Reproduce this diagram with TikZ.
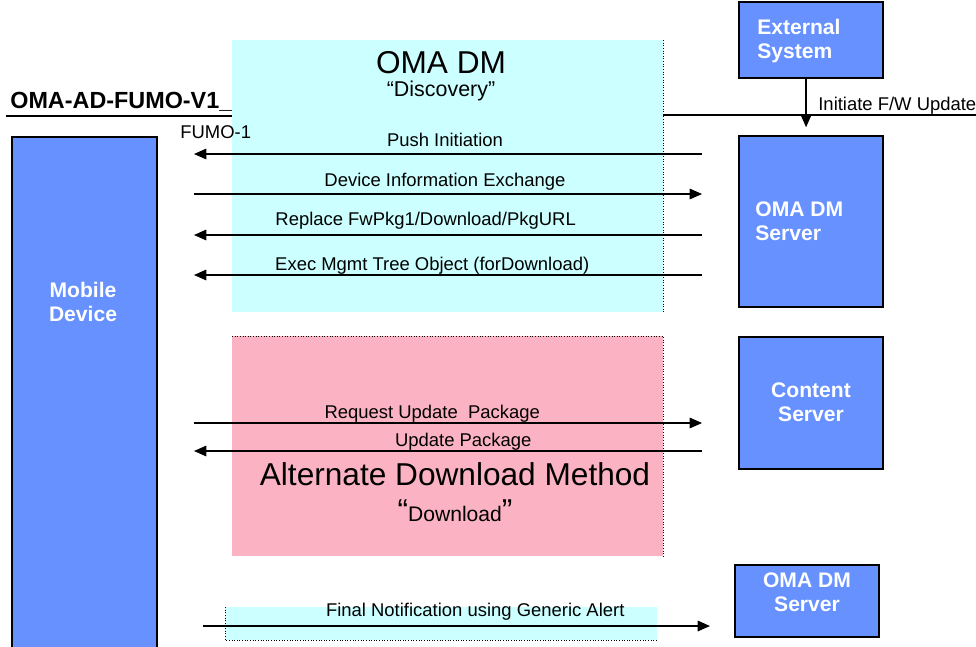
\documentclass[tikz,border=0pt]{standalone}
\usepackage{fontspec}
\setmainfont{Liberation Sans}
\usetikzlibrary{arrows.meta}

\definecolor{devblue}{HTML}{6691FF}
\definecolor{phasecyan}{HTML}{CCFFFF}
\definecolor{phasepink}{HTML}{FBB3C3}

\tikzset{
  srv/.style={draw=black, line width=1pt, fill=devblue, inner sep=0pt},
  srvtext/.style={text=white, font=\fontsize{12}{13.6}\selectfont\bfseries, align=center, inner sep=0pt},
  msg/.style={line width=0.75pt, -{Triangle[length=7pt,width=6pt]}},
  lbl/.style={anchor=base, inner sep=0pt, font=\fontsize{10.5}{12}\selectfont},
  phaseedge/.style={densely dotted, line width=0.5pt},
}

\begin{document}
\begin{tikzpicture}[x=0.02cm, y=-0.02cm]
  \useasboundingbox (0,0) rectangle (976,646);

  % document title and its rule
  \node[anchor=base west, inner sep=0pt, font=\fontsize{13.3}{16}\selectfont\bfseries] (title) at (10,108) {OMA-AD-FUMO-V1\_};
  \draw[line width=1.7pt] (6,116) -- (232,116);
  \draw[line width=1.1pt] (663,115) -- (976,115);

  % phase backgrounds
  \fill[phasecyan] (232,40) rectangle (663,312);
  \draw[phaseedge] (663,40) -- (663,312);
  \node[font=\fontsize{18}{20}\selectfont] (dmtitle) at (441,63) {OMA DM};
  \node[font=\fontsize{12.2}{14}\selectfont] (dmsub) at (441,91) {“Discovery”};

  \fill[phasepink] (232,336) rectangle (663,556);
  \draw[phaseedge] (232,336) -- (663,336) -- (663,556);
  \node[font=\fontsize{18}{20}\selectfont] (alttitle) at (455,474) {Alternate Download Method};
  \node[font=\fontsize{12}{14}\selectfont] (altsub) at (455,511)
    {{\fontsize{18}{20}\selectfont“}Download{\fontsize{18}{20}\selectfont”}};

  \fill[phasecyan] (225,607) rectangle (657,640);
  \draw[phaseedge] (225,607) -- (225,640) -- (657,640);

  % devices and servers
  \node[srv, minimum width=2.9cm, minimum height=12cm, anchor=north] (mobile) at (84.5,136) {};
  \node[srv, minimum width=2.88cm, minimum height=1.52cm] (extsys) at (811,40) {};
  \node[srv, minimum width=2.88cm, minimum height=3.42cm] (dmserver) at (811,221.5) {};
  \node[srv, minimum width=2.88cm, minimum height=2.64cm] (content) at (811,403) {};
  \node[srv, minimum width=2.88cm, minimum height=1.44cm] (dmserverb) at (807,601) {};

  \node[srvtext] (mobilelbl) at (83,302) {Mobile\\Device};
  \node[srvtext, align=left, anchor=west] (extsyslbl) at (757,41) {External\\System};
  \node[srvtext, align=left, anchor=west] (dmserverlbl) at (755,221) {OMA DM\\Server};
  \node[srvtext] (contentlbl) at (811,402) {Content\\Server};
  \node[srvtext] (dmserverblbl) at (807,592) {OMA DM\\Server};

  \node[lbl, anchor=base west] (fumo) at (180,138) {FUMO-1};

  % trigger from the external system
  \draw[msg, shorten >=4.5pt] ([xshift=-2.8pt]extsys.south) -- ([xshift=-2.8pt]dmserver.north);
  \node[lbl, anchor=base west] (initlbl) at (818,110) {Initiate F/W Update};

  % message end points
  \foreach \n/\y in {push/154, info/194, url/235, exec/275, req/423, pkg/451} {
    \coordinate (\n-l) at (194,\y);
    \coordinate (\n-r) at (702,\y);
  }
  \coordinate (alert-l) at (203,626);
  \coordinate (alert-r) at (710,626);

  \draw[msg] (push-r) -- node[lbl, pos=0.506, yshift=4.5pt] {Push Initiation} (push-l);
  \draw[msg] (info-l) -- node[lbl, pos=0.494, yshift=4.3pt] {Device Information Exchange} (info-r);
  \draw[msg] (url-r) -- node[lbl, pos=0.544, yshift=5.4pt] {Replace FwPkg1/Download/PkgURL} (url-l);
  \draw[msg] (exec-r) -- node[lbl, pos=0.531, yshift=2.6pt] {Exec Mgmt Tree Object (forDownload)} (exec-l);
  \draw[msg] (req-l) -- node[lbl, pos=0.469, yshift=2.6pt] {Request Update\ \ Package} (req-r);
  \draw[msg] (pkg-r) -- node[lbl, pos=0.47, yshift=2.6pt] {Update Package} (pkg-l);
  \draw[msg] (alert-l) -- node[lbl, pos=0.537, yshift=5.4pt] {Final Notification using Generic Alert} (alert-r);
\end{tikzpicture}
\end{document}
